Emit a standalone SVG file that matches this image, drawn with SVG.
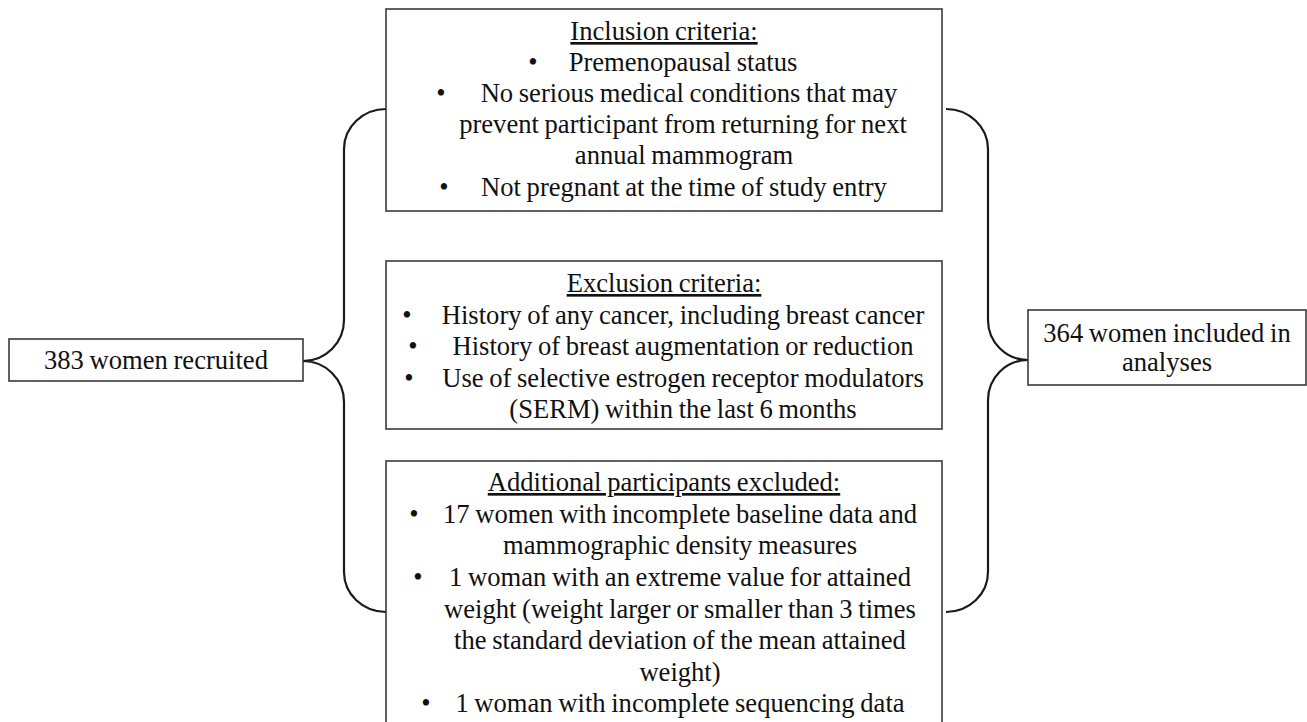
<svg xmlns="http://www.w3.org/2000/svg" width="1307" height="722" viewBox="0 0 1307 722">
<style>
.box{fill:#fff;stroke:#3a3a3a;stroke-width:1.6}
.brace{fill:none;stroke:#1a1a1a;stroke-width:2.2}
text{font-family:"Liberation Serif","Times New Roman",serif;font-size:26.6px;fill:#111;word-spacing:-1px}
.c{text-anchor:middle}
.u{text-decoration:underline}
</style>
<rect width="1307" height="722" fill="#fff"/>
<g id="connectors">
<path class="brace" d="M386,109 A42,40 0 0 0 344,149 V320 A41,41 0 0 1 303,361 A41,41 0 0 1 344,402 V572 A42,40 0 0 0 386,612"/>
<path class="brace" d="M946,109 A42,40 0 0 1 988,149 V320 A40,40 0 0 0 1028,360 A40,40 0 0 0 988,400 V572 A42,40 0 0 1 946,612"/>
</g>
<g id="recruited">
<rect class="box" x="9" y="339" width="294" height="42"/>
<text class="c" x="156" y="369">383 women recruited</text>
</g>
<g id="inclusion">
<rect class="box" x="386" y="9" width="556" height="202"/>
<text class="c u" x="664" y="40">Inclusion criteria:</text>
<text class="c" x="533" y="71">•</text>
<text class="c" x="683" y="71">Premenopausal status</text>
<text class="c" x="441" y="102">•</text>
<text class="c" x="689" y="102">No serious medical conditions that may</text>
<text class="c" x="683" y="133">prevent participant from returning for next</text>
<text class="c" x="684" y="164">annual mammogram</text>
<text class="c" x="444" y="196">•</text>
<text class="c" x="684" y="196">Not pregnant at the time of study entry</text>
</g>
<g id="exclusion">
<rect class="box" x="386" y="261" width="556" height="168"/>
<text class="c u" x="664" y="292">Exclusion criteria:</text>
<text class="c" x="407" y="324">•</text>
<text class="c" x="683" y="324">History of any cancer, including breast cancer</text>
<text class="c" x="413" y="355">•</text>
<text class="c" x="683" y="355">History of breast augmentation or reduction</text>
<text class="c" x="409" y="387">•</text>
<text class="c" x="683" y="387">Use of selective estrogen receptor modulators</text>
<text class="c" x="683" y="418">(SERM) within the last 6 months</text>
</g>
<g id="additional">
<rect class="box" x="386" y="461" width="556" height="280"/>
<text class="c u" x="664" y="491">Additional participants excluded:</text>
<text class="c" x="414" y="523">•</text>
<text class="c" x="680" y="523">17 women with incomplete baseline data and</text>
<text class="c" x="680" y="554">mammographic density measures</text>
<text class="c" x="418" y="586">•</text>
<text class="c" x="680" y="586">1 woman with an extreme value for attained</text>
<text class="c" x="680" y="618">weight (weight larger or smaller than 3 times</text>
<text class="c" x="680" y="649">the standard deviation of the mean attained</text>
<text class="c" x="680" y="681">weight)</text>
<text class="c" x="426" y="712">•</text>
<text class="c" x="680" y="712">1 woman with incomplete sequencing data</text>
</g>
<g id="included">
<rect class="box" x="1028" y="310" width="278" height="75"/>
<text class="c" x="1167" y="342">364 women included in</text>
<text class="c" x="1167" y="371">analyses</text>
</g>
</svg>
